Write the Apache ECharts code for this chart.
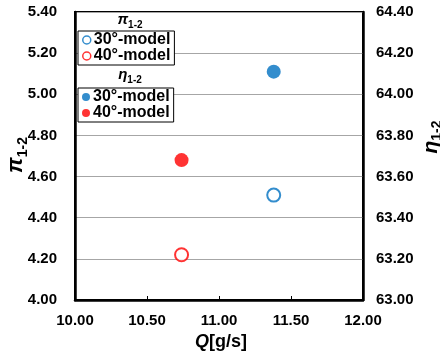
<!DOCTYPE html>
<html><head><meta charset="utf-8">
<script src="https://cdn.jsdelivr.net/npm/echarts@6/dist/echarts.min.js"></script>
<style>html,body{margin:0;padding:0;background:#fff}#c{width:440px;height:358px}</style>
</head><body><div id="c"></div>
<script>
var modelNames = ['30°-model', '40°-model'];
var qValues = [11.38, 10.74];
var piValues = [4.51, 4.22];
var etaValues = [64.11, 63.68];
var colors = ['#0070C0', '#FF0000'];
var xTicks = {min: 10, max: 12, interval: 0.5};
var piTicks = {min: 4, max: 5.4, interval: 0.2};
var etaTicks = {min: 63, max: 64.4, interval: 0.2};

var FONT = 'Liberation Sans, Arial, sans-serif';
var chart = echarts.init(document.getElementById('c'));
var series = [];
var labelMap = {};
modelNames.forEach(function (m, i) {
  var pid = 'pi' + i, eid = 'eta' + i;
  labelMap[pid] = m; labelMap[eid] = m;
  series.push({
    name: pid, type: 'scatter', yAxisIndex: 0,
    symbol: 'emptyCircle', symbolSize: 13,
    itemStyle: {color: colors[i], borderColor: colors[i], borderWidth: 2.5},
    data: [[qValues[i], piValues[i]]]
  });
  series.push({
    name: eid, type: 'scatter', yAxisIndex: 1,
    symbol: 'circle', symbolSize: 14,
    itemStyle: {color: colors[i]},
    data: [[qValues[i], etaValues[i]]]
  });
});
function legend(ids, top) {
  return {
    data: ids.map(function (id, k) {
      return {name: id, icon: 'circle', itemStyle: id.indexOf('pi') === 0 ?
        {color: '#fff', borderColor: colors[k], borderWidth: 1.5} : {color: colors[k]}};
    }),
    orient: 'vertical', left: 78, top: top, width: 98,
    itemWidth: 8, itemHeight: 8, itemGap: 0,
    padding: [1, 4, 1, 4],
    borderColor: '#000', borderWidth: 1, backgroundColor: '#fff',
    selectedMode: false,
    formatter: function (n) { return labelMap[n]; },
    textStyle: {fontFamily: FONT, fontWeight: 'bold', fontSize: 16, color: '#000', lineHeight: 16, padding: [0, 0, 0, -2]}
  };
}
var labelStyle = {fontFamily: FONT, fontWeight: 'bold', fontSize: 15, color: '#000'};
function symbolText(sym, x, y, rot, size) {
  return {
    type: 'text', x: x, y: y, rotation: rot || 0, z: 100,
    style: {
      text: '{a|' + sym + '}{b|1-2}',
      align: 'center', verticalAlign: 'middle',
      rich: {
        a: {fontFamily: FONT, fontWeight: 'bold', fontStyle: 'italic', fontSize: size, fill: '#000', verticalAlign: 'bottom'},
        b: {fontFamily: FONT, fontWeight: 'bold', fontSize: Math.round(size * 0.65), fill: '#000', verticalAlign: 'bottom', padding: [0, 0, -3, 0]}
      }
    }
  };
}
chart.setOption({
  animation: false,
  grid: {left: 75, right: 77, top: 12, bottom: 58, show: true, borderColor: '#000', borderWidth: 2},
  xAxis: {
    type: 'value', min: xTicks.min, max: xTicks.max, interval: xTicks.interval,
    axisLine: {show: true, lineStyle: {color: '#000', width: 2.5}},
    axisTick: {show: true, inside: true, length: 4, lineStyle: {color: '#000', width: 1}},
    splitLine: {show: false},
    axisLabel: Object.assign({formatter: function (v) { return v.toFixed(2); }, margin: 13}, labelStyle)
  },
  yAxis: [{
    type: 'value', min: piTicks.min, max: piTicks.max, interval: piTicks.interval,
    axisLine: {show: true, lineStyle: {color: '#000', width: 2.5}},
    axisTick: {show: false},
    splitLine: {show: true, lineStyle: {color: '#A6A6A6', width: 1.2}},
    axisLabel: Object.assign({formatter: function (v) { return v.toFixed(2); }, margin: 18}, labelStyle)
  }, {
    type: 'value', min: etaTicks.min, max: etaTicks.max, interval: etaTicks.interval,
    axisLine: {show: true, lineStyle: {color: '#000', width: 2.5}},
    axisTick: {show: false},
    splitLine: {show: false},
    axisLabel: Object.assign({formatter: function (v) { return v.toFixed(2); }, margin: 13}, labelStyle)
  }],
  legend: [legend(['pi0', 'pi1'], 31), legend(['eta0', 'eta1'], 88)],
  graphic: [
    symbolText('π', 130, 20, 0, 15),
    symbolText('η', 130, 75, 0, 15),
    symbolText('π', 16, 155, Math.PI / 2, 22),
    symbolText('η', 431, 137, Math.PI / 2, 21),
    {
      type: 'text', x: 221, y: 342, z: 100,
      style: {
        text: '{q|Q}{r|[g/s]}', align: 'center', verticalAlign: 'middle',
        rich: {
          q: {fontFamily: FONT, fontWeight: 'bold', fontStyle: 'italic', fontSize: 18, fill: '#000'},
          r: {fontFamily: FONT, fontWeight: 'bold', fontSize: 18, fill: '#000'}
        }
      }
    }
  ],
  series: series
});
</script>
</body></html>
